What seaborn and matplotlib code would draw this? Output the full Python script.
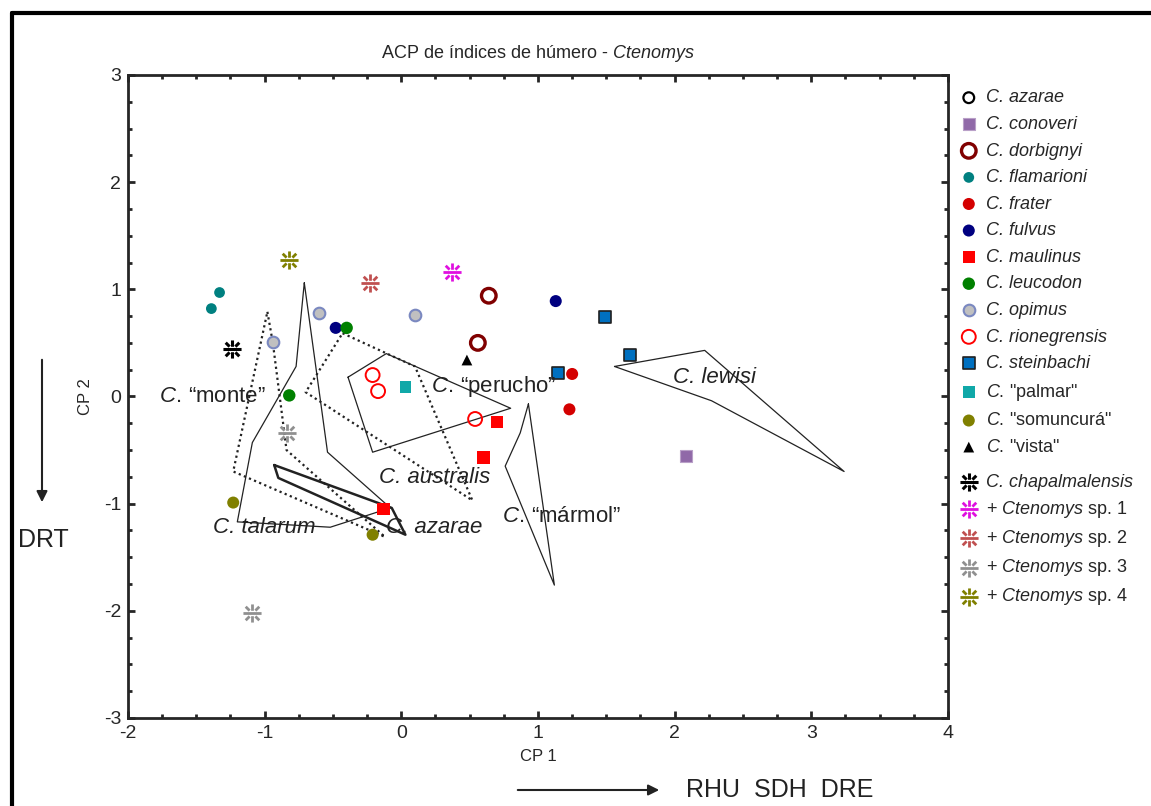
import numpy as np
import pandas as pd
import seaborn as sns
import matplotlib
matplotlib.use('Agg')
import matplotlib.pyplot as plt
from matplotlib.path import Path
from matplotlib.lines import Line2D
from matplotlib.ticker import MultipleLocator

# ---- data ----
species = ['azarae', 'conoveri', 'dorbignyi', 'flamarioni', 'frater', 'fulvus',
           'maulinus', 'leucodon', 'opimus', 'rionegrensis', 'steinbachi',
           'palmar', 'somuncura', 'vista', 'chapalmalensis',
           'sp1', 'sp2', 'sp3', 'sp4']

pts_x = {
    'azarae': [],
    'conoveri': [2.08],
    'dorbignyi': [0.64, 0.56],
    'flamarioni': [-1.33, -1.39],
    'frater': [1.25, 1.23],
    'fulvus': [1.13, -0.48],
    'maulinus': [0.70, 0.60, -0.13],
    'leucodon': [-0.40, -0.82],
    'opimus': [-0.60, -0.94, 0.10],
    'rionegrensis': [-0.21, -0.17, 0.54],
    'steinbachi': [1.49, 1.67, 1.15],
    'palmar': [0.03],
    'somuncura': [-1.23, -0.21],
    'vista': [0.48],
    'chapalmalensis': [-1.24],
    'sp1': [0.37],
    'sp2': [-0.23],
    'sp3': [-0.84, -1.09],
    'sp4': [-0.82],
}
pts_y = {
    'azarae': [],
    'conoveri': [-0.56],
    'dorbignyi': [0.94, 0.50],
    'flamarioni': [0.97, 0.82],
    'frater': [0.21, -0.12],
    'fulvus': [0.89, 0.64],
    'maulinus': [-0.24, -0.57, -1.05],
    'leucodon': [0.64, 0.01],
    'opimus': [0.78, 0.51, 0.76],
    'rionegrensis': [0.20, 0.05, -0.21],
    'steinbachi': [0.74, 0.39, 0.22],
    'palmar': [0.09],
    'somuncura': [-0.99, -1.29],
    'vista': [0.34],
    'chapalmalensis': [0.44],
    'sp1': [1.16],
    'sp2': [1.06],
    'sp3': [-0.34, -2.02],
    'sp4': [1.27],
}

labels = ['C. azarae', 'C. conoveri', 'C. dorbignyi', 'C. flamarioni', 'C. frater',
          'C. fulvus', 'C. maulinus', 'C. leucodon', 'C. opimus', 'C. rionegrensis',
          'C. steinbachi', r'$\it{C.}\,$"palmar"', r'$\it{C.}\,$"somuncurá"',
          r'$\it{C.}\,$"vista"', 'C. chapalmalensis',
          r'+ $\it{Ctenomys}$ sp. 1', r'+ $\it{Ctenomys}$ sp. 2',
          r'+ $\it{Ctenomys}$ sp. 3', r'+ $\it{Ctenomys}$ sp. 4']

# convex hull outlines (CP1, CP2)
hull_x = {
    'lewisi': [1.56, 2.22, 3.24, 2.27],
    'marmol': [0.93, 0.87, 0.76, 1.12],
    'perucho': [-0.39, -0.11, 0.80, -0.21],
    'australis': [-0.43, 0.10, 0.52, -0.70],
    'monte': [-0.98, -0.94, -0.84, -0.12, -1.23],
    'talarum': [-0.71, -0.77, -1.09, -1.20, -0.52, -0.08, -0.54],
    'azarae': [-0.93, -0.90, 0.03, -0.07],
}
hull_y = {
    'lewisi': [0.28, 0.43, -0.70, -0.04],
    'marmol': [-0.07, -0.34, -0.65, -1.76],
    'perucho': [0.18, 0.40, -0.11, -0.52],
    'australis': [0.59, 0.28, -0.97, 0.04],
    'monte': [0.79, 0.50, -0.50, -1.31, -0.70],
    'talarum': [1.06, 0.28, -0.43, -1.17, -1.22, -1.04, -0.52],
    'azarae': [-0.64, -0.76, -1.29, -1.04],
}
hull_names = [r'$\it{C.}\,$“monte”', r'$\it{C.}\,$“perucho”', 'C. lewisi', 'C. australis',
              'C. azarae', 'C. talarum', r'$\it{C.}\,$“mármol”']
hull_text_x = [-1.77, 0.22, 1.99, -0.16, -0.11, -1.38, 0.74]
hull_text_y = [0.0, 0.09, 0.18, -0.76, -1.22, -1.22, -1.12]


# asterisk-like marker with open centre
def star_marker():
    verts, codes = [], []
    def seg(a, b):
        verts.extend([a, b])
        codes.extend([Path.MOVETO, Path.LINETO])
    seg((-1, 0), (1, 0))
    seg((0, 0.3), (0, 1))
    seg((0, -0.3), (0, -1))
    for dx, dy in [(1, 1), (-1, 1), (1, -1), (-1, -1)]:
        seg((0.32 * dx, 0.32 * dy), (0.75 * dx, 0.75 * dy))
    return Path(verts, codes)


STAR = star_marker()

style = {
    'azarae': dict(marker='o', s=60, facecolor='none', edgecolor='black', linewidth=1.6),
    'conoveri': dict(marker='s', s=70, color='#9069a8', edgecolor='#b9a0c8', linewidth=0.8),
    'dorbignyi': dict(marker='o', s=110, facecolor='none', edgecolor='#800000', linewidth=2.4),
    'flamarioni': dict(marker='o', s=60, color='#008080', edgecolor='none'),
    'frater': dict(marker='o', s=75, color='#d40000', edgecolor='none'),
    'fulvus': dict(marker='o', s=75, color='#000080', edgecolor='none'),
    'maulinus': dict(marker='s', s=80, color='#ff0000', edgecolor='none'),
    'leucodon': dict(marker='o', s=80, color='#008000', edgecolor='none'),
    'opimus': dict(marker='o', s=70, color='#c0c0c0', edgecolor='#7a88c0', linewidth=1.5),
    'rionegrensis': dict(marker='o', s=100, facecolor='none', edgecolor='#ff0000', linewidth=1.4),
    'steinbachi': dict(marker='s', s=70, color='#0070c0', edgecolor='#202020', linewidth=1.2),
    'palmar': dict(marker='s', s=70, color='#10a8a8', edgecolor='none'),
    'somuncura': dict(marker='o', s=75, color='#808000', edgecolor='none'),
    'vista': dict(marker='^', s=60, color='black', edgecolor='none'),
    'chapalmalensis': dict(marker=STAR, s=170, color='black', edgecolor='black', linewidth=2.2),
    'sp1': dict(marker=STAR, s=170, color='#e010e0', edgecolor='#e010e0', linewidth=2.0),
    'sp2': dict(marker=STAR, s=170, color='#c05050', edgecolor='#c05050', linewidth=2.0),
    'sp3': dict(marker=STAR, s=170, color='#909090', edgecolor='#909090', linewidth=2.0),
    'sp4': dict(marker=STAR, s=170, color='#808000', edgecolor='#808000', linewidth=2.0),
}

# ---- style ----
sns.set_style('ticks')
plt.rcParams['font.family'] = ['Liberation Sans', 'DejaVu Sans']
plt.rcParams['mathtext.fontset'] = 'custom'
plt.rcParams['mathtext.rm'] = 'Liberation Sans'
plt.rcParams['mathtext.it'] = 'Liberation Sans:italic'
plt.rcParams['font.size'] = 13
plt.rcParams['axes.linewidth'] = 2.0
plt.rcParams['axes.unicode_minus'] = False
plt.rcParams['xtick.direction'] = 'in'
plt.rcParams['ytick.direction'] = 'in'

fig = plt.figure(figsize=(11.51, 8.06), dpi=100)
ax = fig.add_axes([0.1112, 0.1092, 0.7124, 0.7978])

for name in hull_x:
    hx = hull_x[name] + hull_x[name][:1]
    hy = hull_y[name] + hull_y[name][:1]
    if name in ('australis', 'monte'):
        ax.plot(hx, hy, color='#222222', lw=1.6, ls=(0, (1, 1.5)))
    elif name == 'azarae':
        ax.plot(hx, hy, color='#222222', lw=1.8)
    else:
        ax.plot(hx, hy, color='#222222', lw=0.9)

handles = []
for sp in species:
    kw = dict(style[sp])
    if pts_x[sp]:
        df = pd.DataFrame({'x': pts_x[sp], 'y': pts_y[sp]})
        sns.scatterplot(data=df, x='x', y='y', ax=ax, legend=False, zorder=3, **kw)
    h = ax.scatter([], [], **kw)
    handles.append(h)

for txt, tx, ty in zip(hull_names, hull_text_x, hull_text_y):
    st = 'normal' if '$' in txt else 'italic'
    ax.text(tx, ty, txt, fontsize=16, fontstyle=st, color='#222222',
            ha='left', va='center', zorder=4)

ax.set_xlim(-2, 4)
ax.set_ylim(-3, 3)
ax.xaxis.set_major_locator(MultipleLocator(1))
ax.yaxis.set_major_locator(MultipleLocator(1))
ax.xaxis.set_minor_locator(MultipleLocator(0.25))
ax.yaxis.set_minor_locator(MultipleLocator(0.25))
ax.tick_params(which='major', length=5, width=2, top=True, right=True, labelsize=14, pad=5)
ax.tick_params(which='minor', length=3, width=2, top=True, right=True)
ax.set_xlabel('CP 1', fontsize=12, labelpad=5)
ax.set_ylabel('CP 2', fontsize=12, labelpad=8)
ax.set_title(r'ACP de índices de húmero - $\it{Ctenomys}$', fontsize=13, pad=12)

leg_kw = dict(loc='upper left', frameon=False, fontsize=13, labelspacing=0.53,
              handletextpad=0.35, handlelength=1.2, borderaxespad=0)
leg1 = fig.legend(handles[:14], labels[:14], bbox_to_anchor=(0.826, 0.898), **leg_kw)
leg2 = fig.legend(handles[14:], labels[14:], bbox_to_anchor=(0.826, 0.421),
                  **dict(leg_kw, labelspacing=0.45))
for leg in (leg1, leg2):
    for t in leg.get_texts():
        if '$' not in t.get_text():
            t.set_fontstyle('italic')

# direction annotations
fig.text(18 / 1151, 1 - 540 / 806, 'DRT', fontsize=18, va='center', ha='left', color='#222222')
fig.text(686 / 1151, 1 - 790 / 806, 'RHU  SDH  DRE', fontsize=18, va='center', ha='left', color='#222222')
fig.add_artist(matplotlib.patches.FancyArrowPatch(
    (42 / 1151, 1 - 357 / 806), (42 / 1151, 1 - 505 / 806), transform=fig.transFigure,
    arrowstyle='-|>', mutation_scale=16, lw=1.5, color='#222222'))
fig.add_artist(matplotlib.patches.FancyArrowPatch(
    (515 / 1151, 1 - 790 / 806), (662 / 1151, 1 - 790 / 806), transform=fig.transFigure,
    arrowstyle='-|>', mutation_scale=16, lw=1.5, color='#222222'))

# outer frame (top and left edges)
fig.add_artist(Line2D([12 / 1151, 1], [1 - 13 / 806, 1 - 13 / 806], transform=fig.transFigure,
                      color='black', lw=3))
fig.add_artist(Line2D([12 / 1151, 12 / 1151], [0, 1 - 13 / 806], transform=fig.transFigure,
                      color='black', lw=3))

fig.savefig('out.png', dpi=100)
